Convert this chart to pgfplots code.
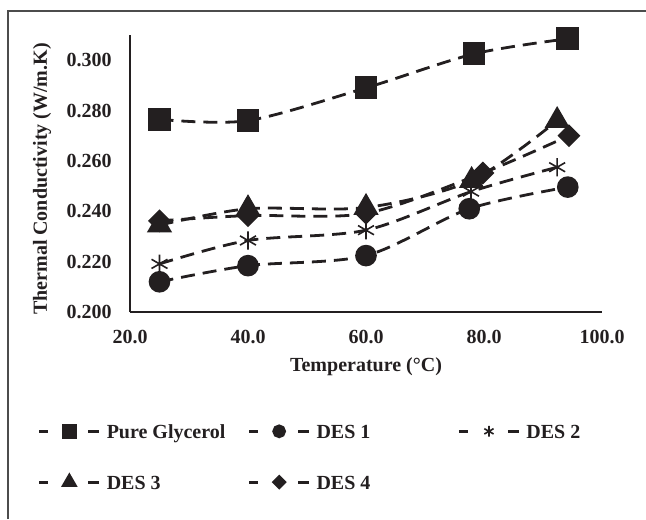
\documentclass[border=0pt]{standalone}
\usepackage{fontspec}
\setmainfont{Liberation Serif}
\usepackage{pgfplots}
\pgfplotsset{compat=1.18}
\definecolor{ink}{RGB}{35,31,32}

\begin{document}
\begin{tikzpicture}
\path[use as bounding box] (0pt,0pt) rectangle (323pt,259.5pt);
% frame of the figure (only top and left edges visible)
\draw[line width=0.8pt, black!70] (4pt,0pt) -- (4pt,254pt) -- (323pt,254pt);
\begin{axis}[
  at={(65pt,103.5pt)}, anchor=south west,
  scale only axis, width=236pt, height=138.5pt,
  xmin=20, xmax=100, ymin=0.2, ymax=0.31,
  xtick={20,40,60,80,100},
  ytick={0.2,0.22,0.24,0.26,0.28,0.3},
  axis x line*=bottom, axis y line*=left,
  axis line style={-, line width=0.9pt, color=ink},
  major tick length=0pt,
  clip=false,
  /pgf/number format/assume math mode=true,
  ticklabel style={font=\bfseries, text=ink},
  xticklabel style={anchor=center, yshift=-12.5pt, /pgf/number format/.cd, fixed, fixed zerofill, precision=1},
  yticklabel style={anchor=east, inner sep=0pt, xshift=-9pt, /pgf/number format/.cd, fixed, fixed zerofill, precision=3},
  xlabel={Temperature (°C)},
  ylabel={Thermal Conductivity (W/m.K)},
  label style={font=\bfseries, text=ink},
  xlabel style={at={(axis description cs:0.5,-0.199)}, anchor=center},
  ylabel style={at={(axis description cs:-0.186,0.48)}, anchor=center},
  legend columns=3,
  legend cell align=left,
  legend style={at={(axis description cs:-0.195,-0.395)}, anchor=north west,
    draw=none, fill=none, inner sep=0pt, outer sep=0pt,
    column sep=3pt, row sep=15.5pt,
    nodes={inner sep=0pt, font=\bfseries, text=ink}},
  legend image code/.code={
    \draw[#1, solid, mark=none, line width=1.4pt] (0pt,0pt) -- (4.5pt,0pt) (24.5pt,0pt) -- (30pt,0pt);
    \draw[#1, only marks, every mark/.append style={scale=0.58}] plot coordinates {(15pt,0pt)};
  },
  every axis plot/.append style={color=ink, line width=1.4pt, dash pattern=on 7pt off 4pt, smooth, tension=0.5},
]
\addplot[mark=square*, mark size=5pt, mark options={solid, fill=ink}]
  coordinates {(25,0.2765)(40,0.2760)(60,0.2890)(78.3,0.3025)(94.2,0.3085)};
\addlegendentry{\makebox[67.5pt][l]{\strut Pure Glycerol}}
\addplot[mark=*, mark size=4.7pt, mark options={solid, fill=ink}]
  coordinates {(25,0.2120)(40,0.2184)(60,0.2224)(77.5,0.2410)(94.2,0.2496)};
\addlegendentry{\makebox[67.5pt][l]{\strut DES 1}}
\addplot[mark=asterisk, mark size=4.6pt, mark options={solid, line width=0.8pt}]
  coordinates {(25,0.2191)(40,0.2284)(60,0.2325)(77.8,0.2478)(92.4,0.2575)};
\addlegendentry{\makebox[67.5pt][l]{\strut DES 2}}
\addplot[mark=triangle*, mark size=5.9pt, mark options={solid, fill=ink}]
  coordinates {(25,0.2345)(40,0.2410)(60,0.2415)(77.9,0.2522)(92.4,0.2760)};
\addlegendentry{\makebox[67.5pt][l]{\strut DES 3}}
\addplot[mark=square*, mark size=3.35pt, mark options={solid, fill=ink, rotate=45}]
  coordinates {(25,0.2362)(40,0.2383)(60,0.2392)(79.8,0.2552)(94.4,0.2700)};
\addlegendentry{\makebox[67.5pt][l]{\strut DES 4}}
\end{axis}
\end{tikzpicture}
\end{document}
